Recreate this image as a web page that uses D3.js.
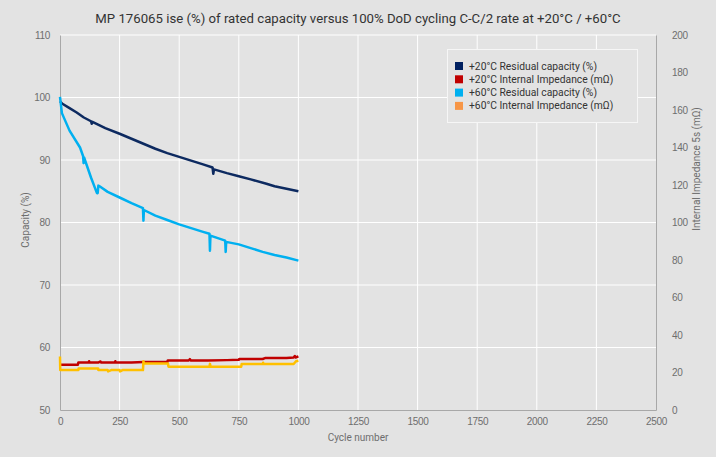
<!DOCTYPE html>
<html>
<head>
<meta charset="utf-8">
<script src="https://cdn.jsdelivr.net/npm/d3@7"></script>
<style>
  body { margin: 0; background: #e3e3e3; }
  svg { display: block; font-family: Roboto, sans-serif; }
</style>
</head>
<body>
<div class="canvas"></div>
<script>
// cycle / value pairs
const cap20 = [[0,99.4],[10,99.0],[40,98.3],[70,97.6],[100,96.8],[130,96.2],[133,95.8],[136,96.1],[190,95.1],[250,94.2],
  [300,93.4],[350,92.6],[400,91.8],[450,91.1],[500,90.5],[550,89.9],[600,89.3],[640,88.8],[643,87.8],[646,88.5],
  [700,87.9],[750,87.4],[800,86.9],[866,86.2],[900,85.8],[950,85.4],[1000,85.0]]

const imp20 = [[0,24.2],[75,24.2],[77,25.3],[120,25.3],[122,26.0],[124,25.3],[160,25.3],[170,25.9],[172,25.3],
  [230,25.3],[232,26.0],[234,25.3],[300,25.3],[350,25.6],[450,25.6],[452,26.4],[540,26.4],[545,27.1],[548,26.4],
  [620,26.4],[700,26.6],[750,26.8],[752,27.2],[850,27.2],[860,27.7],[950,27.7],[980,28.0],[985,28.8],[988,28.0],[1000,28.6]]

const cap60 = [[0,100.1],[8,97.5],[40,94.7],[84,92.0],[97,90.6],[99,89.5],[101,90.4],[130,87.2],[155,84.7],[158,84.7],
  [161,85.9],[166,85.8],[200,84.9],[250,84.0],[300,83.1],[348,82.3],[350,80.3],[352,82.0],[400,81.1],[450,80.4],
  [500,79.7],[550,79.1],[600,78.5],[627,78.2],[629,75.5],[631,77.9],[693,77.1],[695,75.3],[697,76.9],[750,76.5],
  [800,75.9],[850,75.3],[900,74.8],[950,74.4],[1000,73.9]]

const imp60 = [[0,28.5],[1,21.3],[77,21.3],[78,22.2],[160,22.2],[161,21.3],[200,21.3],[202,20.6],[215,21.3],[250,21.3],
  [252,20.6],[262,21.3],[348,21.3],[350,26.0],[352,24.8],[453,24.8],[455,23.1],[627,23.1],[629,24.6],[632,23.1],
  [760,23.1],[762,24.5],[850,24.5],[852,25.2],[855,24.5],[980,24.5],[990,26.0],[1000,26.3]]

const xTicks = [0,250,500,750,1000,1250,1500,1750,2000,2250,2500]
const capTicks = [50,60,70,80,90,100,110]
const impTicks = [0,20,40,60,80,100,120,140,160,180,200]

const legendNames = ['+20°C Residual capacity (%)','+20°C Internal Impedance (mΩ)','+60°C Residual capacity (%)','+60°C Internal Impedance (mΩ)']
const legendCols = ['#002060','#c00000','#00b0f0','#f79646']

const W = 716, H = 457
const m = {left:60, right:60, top:35, bottom:47}

const svg = d3.select('.canvas').append('svg')
  .attr('width', W).attr('height', H)

const x = d3.scaleLinear().domain([0,2500]).range([m.left, W-m.right])
const yL = d3.scaleLinear().domain([50,110]).range([H-m.bottom, m.top])
const yR = d3.scaleLinear().domain([0,200]).range([H-m.bottom, m.top])

// grid
svg.append('g').selectAll('line').data(xTicks.slice(1,-1)).join('line')
  .attr('x1', d=>x(d)).attr('x2', d=>x(d))
  .attr('y1', m.top).attr('y2', H-m.bottom)
  .attr('stroke','#fff').attr('stroke-width',1)
svg.append('g').selectAll('line').data(capTicks.slice(1)).join('line')
  .attr('x1', m.left).attr('x2', W-m.right)
  .attr('y1', d=>yL(d)).attr('y2', d=>yL(d))
  .attr('stroke','#fff').attr('stroke-width',1)

const styleAxis = (g) => {
  g.select('.domain').attr('stroke','#a8a8a8')
  g.selectAll('text').attr('fill','#6e6e6e').attr('font-size',10).attr('letter-spacing',-0.3)
}

svg.append('g').attr('transform',`translate(0,${H-m.bottom})`)
  .call(d3.axisBottom(x).tickValues(xTicks).tickFormat(d3.format('d')).tickSize(0).tickPadding(8).tickSizeOuter(0))
  .call(styleAxis)
svg.append('g').attr('transform',`translate(${m.left},0)`)
  .call(d3.axisLeft(yL).tickValues(capTicks).tickSize(0).tickPadding(10).tickSizeOuter(0))
  .call(styleAxis)
svg.append('g').attr('transform',`translate(${W-m.right},0)`)
  .call(d3.axisRight(yR).tickValues(impTicks).tickSize(0).tickPadding(16).tickSizeOuter(0))
  .call(styleAxis)

// axis titles
svg.append('text').attr('x', (m.left+W-m.right)/2).attr('y', 441)
  .attr('text-anchor','middle').attr('font-size',10).attr('fill','#6e6e6e').text('Cycle number')
svg.append('text').attr('transform','translate(29,220) rotate(-90)')
  .attr('text-anchor','middle').attr('font-size',10).attr('fill','#6e6e6e').text('Capacity (%)')
svg.append('text').attr('transform','translate(700,169) rotate(-90)')
  .attr('text-anchor','middle').attr('font-size',10).attr('fill','#6e6e6e').text('Internal Impedance 5s (mΩ)')

svg.append('text').attr('x', W/2).attr('y', 23)
  .attr('text-anchor','middle').attr('font-size',13.2).attr('fill','#333')
  .text('MP 176065 ise (%) of rated capacity versus 100% DoD cycling C-C/2 rate at +20°C / +60°C')

// series
const lineL = d3.line().x(d=>x(d[0])).y(d=>yL(d[1]))
const lineR = d3.line().x(d=>x(d[0])).y(d=>yR(d[1]))
const series = [
  {data:cap20, gen:lineL, col:'#0d2a60'},
  {data:cap60, gen:lineL, col:'#00b0f0'},
  {data:imp20, gen:lineR, col:'#c00000'},
  {data:imp60, gen:lineR, col:'#ffc000'}
]
svg.append('g').selectAll('path').data(series).join('path')
  .attr('d', d=>d.gen(d.data))
  .attr('fill','none').attr('stroke', d=>d.col)
  .attr('stroke-width',2.5).attr('stroke-linejoin','round')

// legend
const lg = svg.append('g')
lg.append('rect').attr('x',447.5).attr('y',49.5).attr('width',190).attr('height',73)
  .attr('fill','#e3e3e3').attr('stroke','#f6f6f6')
const rows = lg.selectAll('g.row').data(legendNames).join('g')
  .attr('transform',(d,i)=>`translate(455,${62+i*13.3})`)
rows.append('rect').attr('width',8).attr('height',8).attr('fill',(d,i)=>legendCols[i])
rows.append('text').attr('x',14).attr('y',7.5).attr('font-size',10.3).attr('fill','#333').text(d=>d)
</script>
</body>
</html>
